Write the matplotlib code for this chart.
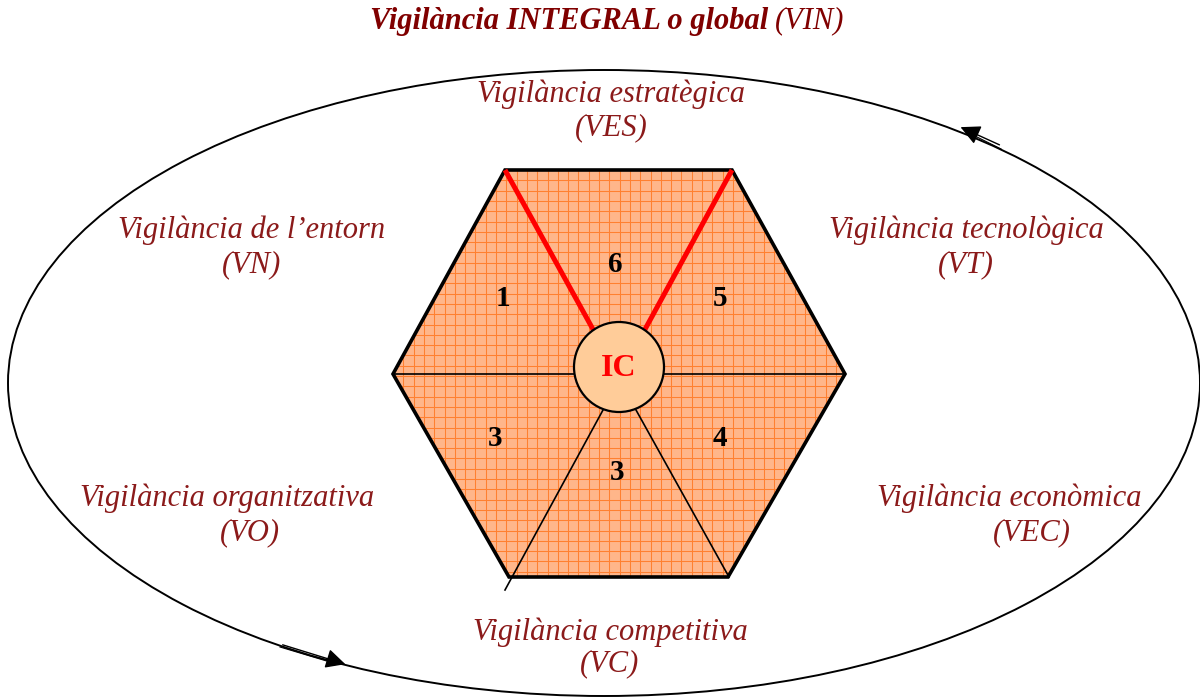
import numpy as np
import matplotlib.pyplot as plt
from matplotlib.patches import Polygon, Circle, Ellipse

plt.rcParams['font.family'] = ['Liberation Serif', 'DejaVu Serif']

# Diagram content
title_main = 'Vigilància INTEGRAL o global'
title_code = '(VIN)'
label_lines = ['Vigilància estratègica', '(VES)',
               'Vigilància de l\u2019entorn', '(VN)',
               'Vigilància tecnològica', '(VT)',
               'Vigilància organitzativa', '(VO)',
               'Vigilància econòmica', '(VEC)',
               'Vigilància competitiva', '(VC)']
label_xy = [(611, 94), (611, 128),
            (252, 230), (252, 265),
            (966, 230), (966, 265),
            (227, 498), (250, 533),
            (1009, 498), (1032, 533),
            (610, 632), (610, 664)]

segment_numbers = ['1', '6', '5', '3', '3', '4']
number_xy = [(503, 299), (615, 265), (720, 299), (495, 438), (617, 472), (720, 438)]

# Geometry (pixel coordinates, y downward)
hex_x = [505, 732, 845, 728, 509, 393]
hex_y = [170, 170, 374, 577, 577, 374]
centre = (619, 367)
r_ic = 45

dark_red = '#8B1A1A'

fig = plt.figure(figsize=(12, 7), dpi=100)
ax = fig.add_axes([0, 0, 1, 1])
ax.set_xlim(0, 1200)
ax.set_ylim(700, 0)
ax.axis('off')

# outer ellipse
ax.add_patch(Ellipse((604, 383), 1192, 626, fill=False, ec='black', lw=1.4))

# hexagon with grid texture
hexagon = Polygon(list(zip(hex_x, hex_y)), closed=True, fc='#FFB68A', ec='none', zorder=2)
ax.add_patch(hexagon)
for gx in np.arange(393, 846, 10.3):
    ln, = ax.plot([gx, gx], [165, 585], color='#FF8030', lw=0.75, zorder=3)
    ln.set_clip_path(hexagon)
for gy in np.arange(170, 578, 10.3):
    ln, = ax.plot([390, 850], [gy, gy], color='#FF8030', lw=0.75, zorder=3)
    ln.set_clip_path(hexagon)
ax.add_patch(Polygon(list(zip(hex_x, hex_y)), closed=True, fill=False, ec='black',
                     lw=2.6, joinstyle='miter', zorder=5))

# divider lines
ax.plot([393, 574], [374, 374], color='black', lw=1.2, zorder=4)
ax.plot([664, 845], [374, 374], color='black', lw=1.2, zorder=4)
ax.plot([603, 505], [410, 590], color='black', lw=1.2, zorder=6)
ax.plot([636, 729], [410, 577], color='black', lw=1.2, zorder=4)
ax.plot([505, 595], [170, 333], color='#FF0000', lw=3.6, zorder=6, solid_capstyle='butt')
ax.plot([732, 643], [170, 333], color='#FF0000', lw=3.6, zorder=6, solid_capstyle='butt')

# centre circle
ax.add_patch(Circle(centre, r_ic, fc='#FFCC99', ec='black', lw=1.6, zorder=7))
ax.text(centre[0], centre[1] + 2, 'IC', color='#FF0000', fontsize=23, fontweight='bold',
        ha='center', va='center', zorder=8)

for num, (x, y) in zip(segment_numbers, number_xy):
    ax.text(x, y, num, fontsize=21, fontweight='bold', ha='center', va='center', zorder=8)

# labels
ax.text(768, 21, title_main, color='#800000', fontsize=22, fontweight='bold',
        style='italic', ha='right', va='center')
ax.text(775, 21, title_code, color='#800000', fontsize=22, style='italic',
        ha='left', va='center')
for lab, (x, y) in zip(label_lines, label_xy):
    ax.text(x, y, lab, color=dark_red, fontsize=22, style='italic', ha='center', va='center')

# direction arrows on the ellipse
ax.annotate('', xy=(958, 126), xytext=(1002, 146),
            arrowprops=dict(arrowstyle='-|>', color='black', lw=1.0, mutation_scale=30))
ax.plot([975, 1001], [136, 149], color='black', lw=0.8)
ax.annotate('', xy=(348, 665), xytext=(280, 644),
            arrowprops=dict(arrowstyle='-|>', color='black', lw=1.0, mutation_scale=30))
ax.plot([280, 330], [647, 662], color='black', lw=0.8)

fig.savefig('out.png', dpi=100)
